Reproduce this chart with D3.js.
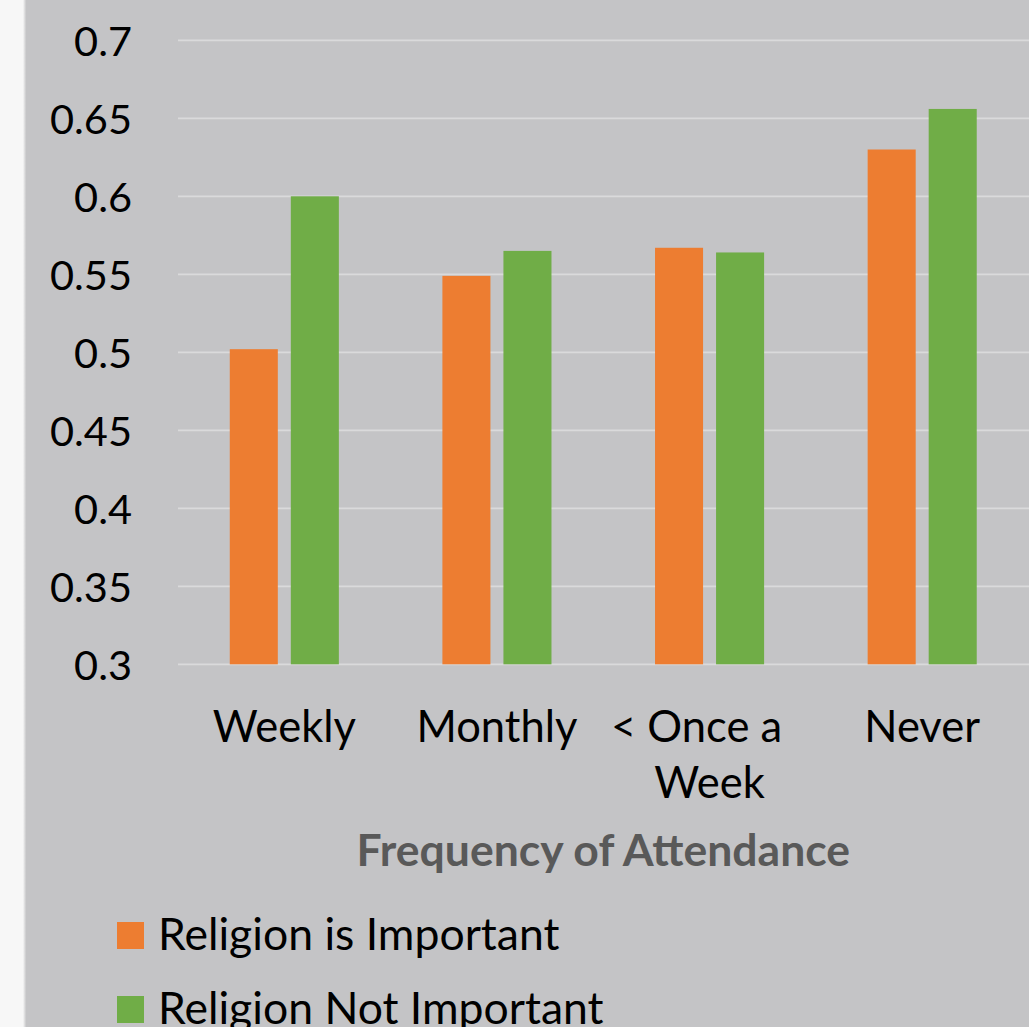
<!DOCTYPE html>
<html>
<head>
<meta charset="utf-8">
<script src="https://cdn.jsdelivr.net/npm/d3@7"></script>
<style>
  html, body { margin: 0; padding: 0; background: #f7f7f7; }
  svg { display: block; }
</style>
</head>
<body>
<svg id="chart" width="1029" height="1027"></svg>
<script>
// Frequency of attendance vs. share, split by importance of religion
const categories = ["Weekly", "Monthly", "< Once a Week", "Never"];
const categoryLines = [["Weekly"], ["Monthly"], ["< Once a", "Week"], ["Never"]];
const seriesNames = ["Religion is Important", "Religion Not Important"];
const importantValues = [0.502, 0.549, 0.567, 0.630];
const notImportantValues = [0.600, 0.565, 0.564, 0.656];
const yTicks = [0.3, 0.35, 0.4, 0.45, 0.5, 0.55, 0.6, 0.65, 0.7];
const colors = ["#ed7d31", "#70ad47"];

const seriesValues = [importantValues, notImportantValues];
const FONT = "Lato, 'Open Sans', sans-serif";

const svg = d3.select("#chart");
const W = 1029, H = 1027;

// chart panel with a soft shadowed left edge
const defs = svg.append("defs");
const grad = defs.append("linearGradient").attr("id", "edge").attr("x1", 0).attr("x2", 1);
grad.append("stop").attr("offset", 0).attr("stop-color", "#f7f7f7");
grad.append("stop").attr("offset", 1).attr("stop-color", "#b8b8ba");
svg.append("rect").attr("x", 23).attr("y", 0).attr("width", 4).attr("height", H).attr("fill", "url(#edge)");
svg.append("rect").attr("x", 26).attr("y", 0).attr("width", W - 26).attr("height", H).attr("fill", "#c4c4c6");

const plot = { left: 178, right: 1028.5, top: 40.3, bottom: 664.3 };

const y = d3.scaleLinear().domain([0.3, 0.7]).range([plot.bottom, plot.top]);
const x0 = d3.scaleBand().domain(categories).range([plot.left, plot.right])
  .paddingInner(0.487).paddingOuter(0.2435);
const x1 = d3.scaleBand().domain(seriesNames).range([0, x0.bandwidth()])
  .paddingInner(0.213).paddingOuter(0);

// horizontal gridlines
svg.append("g").selectAll("line").data(yTicks).join("line")
  .attr("x1", plot.left).attr("x2", W)
  .attr("y1", d => y(d)).attr("y2", d => y(d))
  .attr("stroke", "#dadadb").attr("stroke-width", 1.8);

// y axis tick labels
const yAxis = d3.axisLeft(y).tickValues(yTicks).tickSize(0).tickPadding(0)
  .tickFormat(d => String(+d.toFixed(2)));
const yg = svg.append("g").attr("transform", "translate(132,0)").call(yAxis);
yg.select(".domain").remove();
yg.selectAll("text")
  .attr("font-family", FONT)
  .attr("font-size", 41.5).attr("fill", "#000").attr("dy", "0.36em");

// bars
const groups = svg.append("g").selectAll("g").data(categories).join("g")
  .attr("transform", d => `translate(${x0(d)},0)`);
groups.selectAll("rect")
  .data((c, i) => seriesNames.map((s, k) => ({ s, k, v: seriesValues[k][i] })))
  .join("rect")
  .attr("x", d => x1(d.s))
  .attr("width", x1.bandwidth())
  .attr("y", d => y(d.v))
  .attr("height", d => y(0.3) - y(d.v))
  .attr("fill", d => colors[d.k]);

// category labels (wrapped); a wrapped first line keeps its trailing space,
// so it sits a little left of the band centre
const xl = svg.append("g").selectAll("text").data(categories).join("text")
  .attr("font-family", FONT)
  .attr("font-size", 43.5).attr("fill", "#000")
  .attr("text-anchor", "middle")
  .attr("x", d => x0(d) + x0.bandwidth() / 2)
  .attr("y", 742);
xl.each(function (d, i) {
  const lines = categoryLines[i];
  const cx = +d3.select(this).attr("x");
  d3.select(this).selectAll("tspan").data(lines).join("tspan")
    .attr("x", (t, j) => (lines.length > 1 && j === 0) ? cx - 13 : cx)
    .attr("dy", (t, j) => j === 0 ? 0 : 56)
    .text(t => t);
});

// axis title
svg.append("text")
  .attr("x", (plot.left + plot.right) / 2).attr("y", 866)
  .attr("text-anchor", "middle")
  .attr("font-family", FONT)
  .attr("font-weight", "bold").attr("font-size", 44.5)
  .attr("fill", "#595959")
  .text("Frequency of Attendance");

// legend
const legend = svg.append("g").selectAll("g").data(seriesNames).join("g")
  .attr("transform", (d, i) => `translate(117,${922 + i * 74})`);
legend.append("rect").attr("width", 27).attr("height", 27).attr("fill", (d, i) => colors[i]);
legend.append("text")
  .attr("x", 41).attr("y", 28)
  .attr("font-family", FONT)
  .attr("font-size", 44.5).attr("fill", "#000")
  .text(d => d);
</script>
</body>
</html>
